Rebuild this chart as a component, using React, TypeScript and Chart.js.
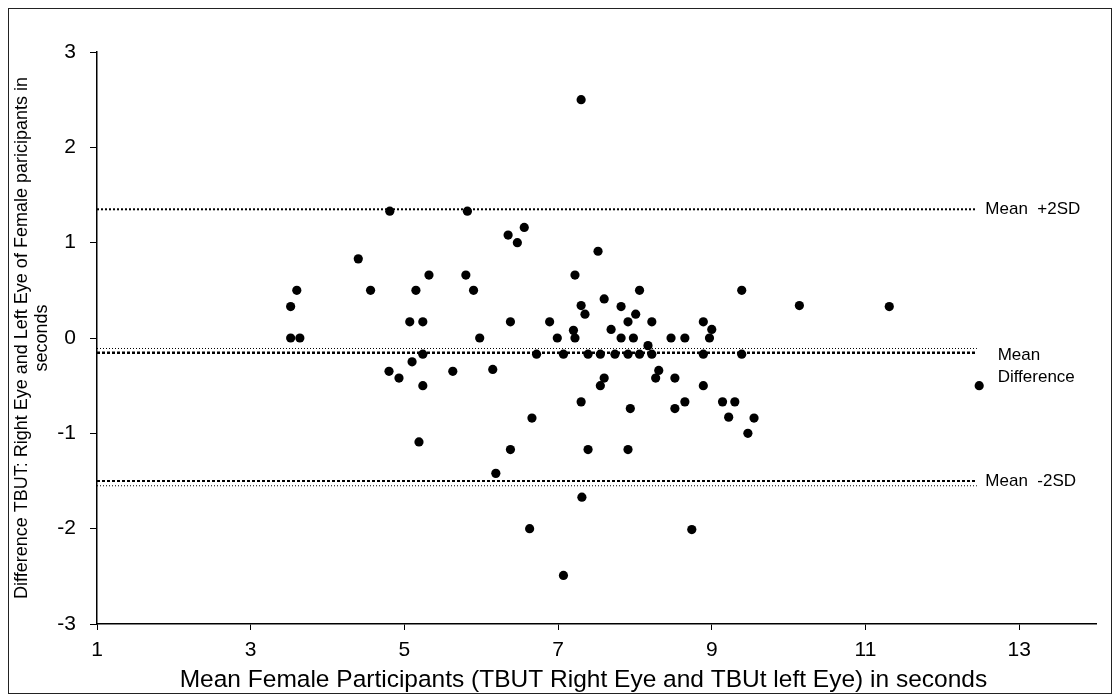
import React, { useEffect, useRef } from "react";
import { Chart, registerables } from "chart.js";

Chart.register(...registerables);

// ---- data ----
const xTickValues = [1, 3, 5, 7, 9, 11, 13];
const yTickValues = [-3, -2, -1, 0, 1, 2, 3];

const meanTBUT = [
  7.30, 4.81, 5.82, 6.56, 6.35, 6.47, 7.52, 4.40, 5.32, 5.80,
  7.22, 3.60, 4.56, 5.15, 5.90, 8.06, 9.39, 7.60, 3.52, 7.30,
  7.82, 10.14, 11.31, 7.35, 8.01, 5.07, 5.24, 6.38, 6.89, 7.91,
  8.22, 8.89, 7.69, 7.20, 9.00, 3.52, 3.64, 5.98, 6.99, 7.22,
  7.82, 7.98, 8.47, 8.65, 8.97, 8.17, 5.24, 6.72, 7.07, 7.39,
  7.55, 7.74, 7.91, 8.06, 8.22, 8.89, 9.39, 5.10, 4.80, 5.63,
  6.15, 8.31, 4.93, 7.60, 8.27, 8.52, 5.24, 7.55, 8.89, 12.48,
  7.30, 8.65, 9.14, 9.30, 7.94, 8.52, 6.66, 9.22, 9.55, 9.47,
  5.19, 6.38, 7.39, 7.91, 6.19, 7.31, 6.63, 8.74, 7.07,
];

const diffTBUT = [
  2.50, 1.33, 1.33, 1.16, 1.08, 1.00, 0.91, 0.83, 0.66, 0.66,
  0.66, 0.50, 0.50, 0.50, 0.50, 0.50, 0.50, 0.41, 0.33, 0.34,
  0.33, 0.34, 0.33, 0.25, 0.25, 0.17, 0.17, 0.17, 0.17, 0.17,
  0.17, 0.17, 0.09, 0.08, 0.09, 0.00, 0.00, 0.00, 0.00, 0.00,
  0.00, 0.00, 0.00, 0.00, 0.00, -0.08, -0.17, -0.17, -0.17, -0.17,
  -0.17, -0.17, -0.17, -0.17, -0.17, -0.17, -0.17, -0.25, -0.35, -0.35,
  -0.33, -0.34, -0.42, -0.42, -0.42, -0.42, -0.50, -0.50, -0.50, -0.50,
  -0.67, -0.67, -0.67, -0.67, -0.74, -0.74, -0.84, -0.83, -0.84, -1.00,
  -1.09, -1.17, -1.17, -1.17, -1.42, -1.67, -2.00, -2.01, -2.49,
];

// reference lines (Bland-Altman limits)
const refLineX = [1, 12.45];
const upperLimit = 1.35;
const meanDiff = -0.155;
const meanDiffThin = -0.11;
const lowerLimit = -1.5;
const lowerLimitThin = -1.55;

const xTitle = "Mean Female Participants (TBUT Right Eye and TBUt left Eye) in seconds";
const yTitle = ["Difference TBUT: Right Eye and Left Eye of Female paricipants in", "seconds"];

const FONT = "'Liberation Sans', Arial, sans-serif";

const refLine = (v: number, width: number, dash: number[]) => ({
  type: "line" as const,
  data: refLineX.map((x) => ({ x, y: v })),
  borderColor: "#000",
  borderWidth: width,
  borderDash: dash,
  pointRadius: 0,
  showLine: true,
  fill: false,
});

const labelsPlugin = {
  id: "refLabels",
  afterDatasetsDraw(chart: any) {
    const { ctx, scales } = chart;
    const x = scales.x;
    const y = scales.y;
    ctx.save();
    ctx.fillStyle = "#000";
    ctx.font = `17px ${FONT}`;
    ctx.textBaseline = "middle";
    ctx.textAlign = "left";
    ctx.fillText("Mean  +2SD", x.getPixelForValue(12.56), y.getPixelForValue(upperLimit));
    ctx.fillText("Mean  -2SD", x.getPixelForValue(12.56), y.getPixelForValue(lowerLimit));
    ctx.fillText("Mean", x.getPixelForValue(12.72), y.getPixelForValue(-0.18));
    ctx.fillText("Difference", x.getPixelForValue(12.72), y.getPixelForValue(-0.41));
    // x-axis title, centred slightly left of the plot centre as in the source
    ctx.font = `24.5px ${FONT}`;
    ctx.textAlign = "center";
    ctx.fillText(xTitle, x.getPixelForValue(7.33), chart.height - 13);
    ctx.restore();
  },
};

export default function App() {
  const canvasRef = useRef<HTMLCanvasElement | null>(null);

  useEffect(() => {
    if (!canvasRef.current) return;
    const points = meanTBUT.map((x, i) => ({ x, y: diffTBUT[i] }));
    const chart = new Chart(canvasRef.current, {
      type: "scatter",
      data: {
        datasets: [
          refLine(upperLimit, 2, [2, 2]),
          refLine(meanDiffThin, 1, [1, 2]),
          refLine(meanDiff, 2.5, [3, 2]),
          refLine(lowerLimit, 2, [3, 2]),
          refLine(lowerLimitThin, 1, [1, 2]),
          {
            type: "scatter" as const,
            data: points,
            backgroundColor: "#000",
            borderColor: "#000",
            borderWidth: 0,
            pointRadius: 4.6,
            pointStyle: "circle",
          },
        ] as any,
      },
      options: {
        animation: false,
        responsive: false,
        events: [],
        layout: { padding: { top: 43, right: 15, left: 0, bottom: 0 } },
        plugins: { legend: { display: false }, tooltip: { enabled: false } },
        scales: {
          x: {
            type: "linear",
            min: 1,
            max: 14,
            afterFit: (s: any) => { s.height = 69; },
            afterBuildTicks: (s: any) => { s.ticks = xTickValues.map((v) => ({ value: v })); },
            grid: { display: true, drawOnChartArea: false, drawTicks: true, tickLength: 6, color: "#000", lineWidth: 1 },
            border: { display: true, color: "#000", width: 1.5 },
            ticks: { color: "#000", font: { family: FONT, size: 21 }, padding: 8, maxRotation: 0, autoSkip: false },
            title: { display: false },
          },
          y: {
            type: "linear",
            min: -3,
            max: 3,
            afterFit: (s: any) => { s.width = 88; },
            afterBuildTicks: (s: any) => { s.ticks = yTickValues.map((v) => ({ value: v })); },
            grid: { display: true, drawOnChartArea: false, drawTicks: true, tickLength: 7, color: "#000", lineWidth: 1 },
            border: { display: true, color: "#000", width: 1.5 },
            ticks: { color: "#000", font: { family: FONT, size: 21 }, padding: 14, autoSkip: false },
            title: { display: true, text: yTitle, color: "#000", font: { family: FONT, size: 18, lineHeight: "20px" }, padding: { top: 3, bottom: 0 } },
          },
        },
      },
      plugins: [labelsPlugin],
    } as any);
    return () => chart.destroy();
  }, []);

  return (
    <div style={{ width: 1102, height: 684, border: "1px solid #222", background: "#fff" }}>
      <canvas ref={canvasRef} width={1102} height={684} style={{ display: "block", width: 1102, height: 684 }} />
    </div>
  );
}
